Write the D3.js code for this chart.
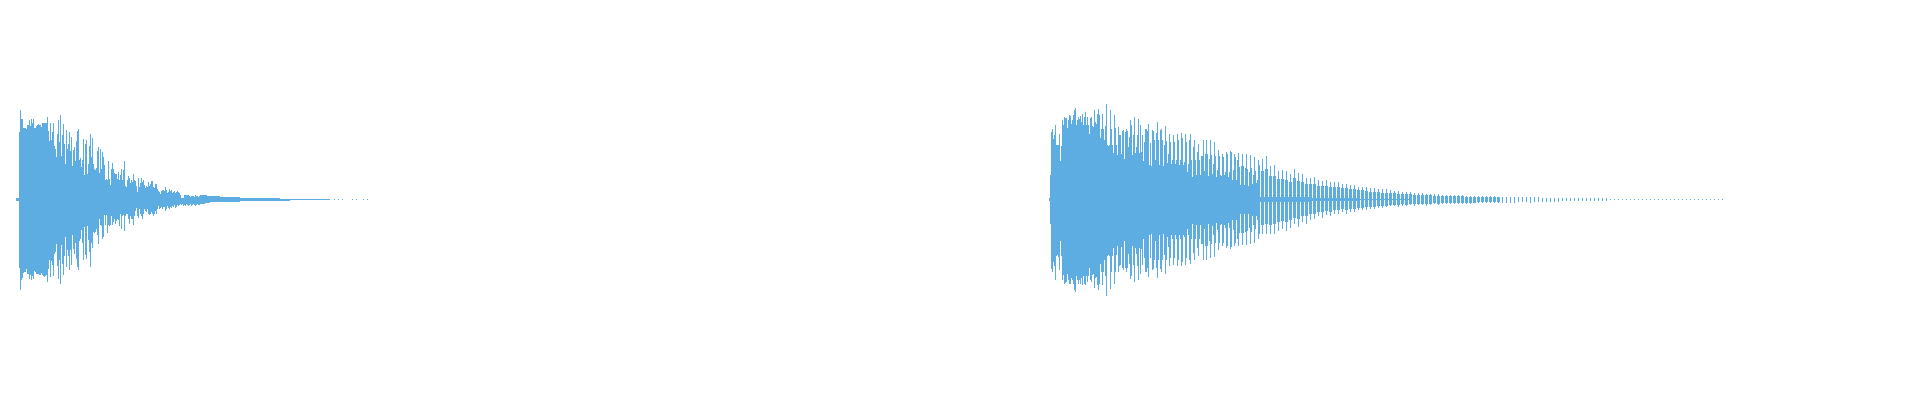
<!DOCTYPE html>
<html>
<head>
<meta charset="utf-8">
<script src="https://cdn.jsdelivr.net/npm/d3@7"></script>
<style>
  html, body { margin: 0; padding: 0; background: #ffffff; overflow: hidden; }
  svg { display: block; }
</style>
</head>
<body>
<svg id="chart" width="1920" height="400"></svg>
<script>
// ---------------- DATA (time in seconds, amplitude in % of full scale) ----------------
const duration = 9.6;          // whole timeline shown
const columnStep = 0.005;      // seconds per waveform column

// Note 1: per-column peak amplitudes (above / below zero) from its onset
const note1Start = 0.080;
const note1Top = [1.5,1.5,1.5,
  68,90,80,80,72,72,72,71,75,75,79,74,80,77,80,72,72,74,75,76,75,75,73,77,77,77,77,77,83,69,
  59,77,60,68,77,54,51,43,66,79,58,85,44,65,76,56,36,70,51,56,68,49,63,34,50,53,39,59,69,71,
  40,42,33,40,61,25,56,60,26,36,54,66,43,62,36,31,30,32,49,53,27,
  51,31,48,43,34.5,19.5,21,20,38.5,20.5,14.5,31,37,31,27,26,25.5,21,28,20,
  24.5,31,19.5,30,38.5,13.5,12,19.5,23.5,22,17,20,18,25.5,19.5,18.5,13.5,8,22,13,
  17,22,18,20,14.5,11,13.5,12,18,13.5,16,18.5,18.5,12,11,15.5,15.5,10,9,8,
  6,8.5,9.5,9.5,9,12,9.5,7,8,10,9,9.5,7,8,8.5,7,8,9,8,7,5,
  2,2,2,4.5,4.5,4.5,5,4.5,4,3,4,3.5,4,3,4.5,3.5,4,3,4];
const note1Bottom = [1.5,1.5,1.5,
  68,90,80,78,73,72,72,69,74.5,74.5,79,75,80,76.5,79,71.5,72,74.5,74.5,74.5,75.5,75,73,75.5,76,77,76.5,75.5,82,69.5,
  60.5,77,61.5,65.5,76.5,54,52,44,66,79,60,84,45.5,64,75,56.5,37,67,50.5,56.5,70.5,50.5,65.5,35,49,54,43,59,67,70.5,
  41.5,39,30.5,43,60.5,27,55,59,26.5,40.5,52,67,43,48,32,33,32,29,35.5,44,19,
  25.5,26,39,37,15.5,25.5,15.5,33,25.5,26,25.5,16.5,25,22,19,24,21.5,19.5,20.5,26,
  14,29,16,15.5,31.5,17,15,14,19,24,17,19.5,19,25.5,17,11.5,8,16,18,9.5,
  14,17,19,14,9,11.5,13,9.5,15,15.5,14,13,14,17,15,11.5,14,9,6,9,
  8,7,9,7,7,11.5,9,6,8,9,7,8,6,7,5.5,8,7,5.5,6,5,4,
  5,4,6,5,6,4.5,5.5,6,5,4.5,6,5,4,5.5,6.5,5,4.5,5,5];

// Note 1 decay tail: envelope every 10 columns
const note1TailStart = 1.000;
const note1TailStep = 0.050;
const note1TailTop    = [5,3.5,3,2.5,2,1.5,1.5,1.2,1,1,0.8,0.6,0.5,0.5];
const note1TailBottom = [5,3,2.5,2.5,2,1.5,1.5,1.2,1,1,0.8,0.6,0.5,0.5];
// Note 1 last isolated samples
const note1LastTimes = [1.670,1.690,1.710,1.760,1.780,1.815,1.835];
const note1LastAmps  = [0.5,0.5,0.5,0.5,0.5,0.5,0.5];

// Note 2 attack: per-column peak amplitudes from its onset
const note2Start = 5.245;
const note2Top = [1.5,24.5,
  68,71,61,64.5,74.5,54.5,54.5,55,66,39,
  54,79.5,74.5,83,82,82,72,79.5,84.5,84,
  76,79.5,84.5,89.5,92,74.5,79.5,83,81,84,
  78,86,75,83,88,75,83,74.5,66,82,
  83,74,73,89.5,78,76,86,90.5,84.5,62,
  71,86,71,59.5,74,96,54.5,54,55,89.5,
  71,54.5,47,84.5,72,54.5,44.5,73,65,64.5,
  46,68.5,69.5,41,68,71,68.5,53,63,79.5,
  74.5,45,64.5,83,47,53,65,81,47,74.5,
  48,64.5,38.5,58,71,71,68.5,76,34.5,
  57,33.5,70,69,60,40,67,78,59.5,34.5,
  69.5,71,59.5,33.5,54.5,73.5,59,37,46,65.5,
  58,36,39.5,64.5,58,35.5,39.5,65.5,59.5,34.5,
  39.5,67,62,34.5,38,65.5,58,28,36,60,
  65.5,40,23,53,59.5,39.5,24.5,48,55.5,40,
  24.5,43.5,43.5,59.5,29,45.5,60,45.5,23.5,41,
  60,44.5,26,36,57.5,43.5,23,29.5,49.5,43.5,
  24.5,23.5,46,43,24.5,28,48,46,23,28,
  49,48,19.5,30,46,43,19.5,40,47,33,
  14.5,33.5,46,33.5,14.5,32,46,31,13.5,28,
  44.5,32,16,24.5,43,29,17,19.5,39.5,34.5];
const note2Bottom = [1.5,24.5,
  69,72,62,66,80,56,55,57,70,42,
  56,80,75,84,83,82,74,80,84,84,
  78,80,84,90,92,76,80,84,80,84,
  78,86,76,84,86,76,82,76,68,80,
  82,75,74,88,78,77,85,90,84,64,
  72,85,72,60,76,96.5,56,55,56,89,
  72,56,48,84,72,55,46,72,66,65,
  47,68,70,42,68,72,68,54,64,79,
  76,46,65,82,48,54,66,80,48,74,
  49,65,40,58,72,72,68,77,35,
  58,34,70,69,60,41,68,78,60,35,
  69,72,60,34,55,74,60,38,47,66,
  58,36,40,65,58,36,40,66,60,35,
  40,66,62,35,38,65,58,29,36,60,
  64,40,24,53,60,40,25,48,56,40,
  25,44,44,60,29,46,60,46,24,41,
  58,44,26,36,57,43,23,30,50,43,
  25,24,46,43,25,28,48,46,23,28,
  49,47,20,30,46,43,20,40,46,33,
  15,33,45,33,15,32,45,31,14,28,
  44,32,16,25,43,29,17,20,40,34];

// Note 2 decay body envelope, every 10 columns
const note2BodyStart = 5.300;
const note2BodyStep = 0.050;
const note2BodyTop = [16,14,13,12,11,10,9.5,9,8,7.5,7,6.5,6,5.5,5,4.5,4.2,3.9,3.6,
  3.3,3,2.8,2.6,2.4,2.3,2,1.8,1.6,1.4,1.2,1,0.9,0.8,0.7,0.6,0.5];
const note2BodyBottom = [16,14,13,12,11,10,9.5,9,8,7.5,7,6.5,6,5.5,5,4.5,4.2,3.9,3.6,
  3.3,3,2.8,2.6,2.4,2.3,2,1.8,1.6,1.4,1.2,1,0.9,0.8,0.7,0.6,0.5];

// Note 2 decay: periodic peaks (one per pitch period) and their shoulders
const note2PulseStart = 6.310;
const note2PulsePeriod = 0.020;
const note2PulseTop = [40.5,44,33.5,34.5,29,29.5,29,25.5,31,27,
  25.5,22,22,23,20,19,20,17.5,18,17.5,
  16,15.5,15,15,13,13,12,11,11.5,10.5,
  10,10,9.5,9,8.5,8,8,7.5,7,7,
  6.5,6,6,5.5,5.5,5,5,
  5,4.5,4.5,4.5,4,4,4,4,3.5,3.5,3.5,3.5,3,3,3,3,3,2.5,2.5,2.5,
  2.5,2.5,2.5,2,2,2,2,2,
  1.5,1.5,1.5,1.5,1.5,1.5,1.5,1.5,1.5,1.5,1.5,1.5,
  0.6,0.6,0.6,0.6,0.6,0.6,0.6,0.6,0.6,0.6,0.6,0.6,0.6,0.6,0.6,0.6,0.6,0.6,0.6,0.6,
  0.6,0.6,0.6,0.6,0.6,0.6,0.6,0.6,0.6];
const note2PulseBottom = [34.5,34,34.5,34,31,29,31,28,24.5,27,
  22,24,20.5,19,17,18,15.5,17,15,14,
  12.5,14.5,13,12,10.5,11,10,9,9,8,
  8,7.5,6.5,6.5,7,6,6.5,5.5,6,5.5,
  5,6.5,5,4.5,5,
  4.5,4.5,4.5,4,4,4,4,4,3.5,3.5,3.5,3.5,3.5,3,3,3,3,3,3,2.5,2.5,2.5,
  3,2.5,2.5,2.5,2,2,2,2,
  1.5,1.5,1.5,1.5,1.5,1.5,1.5,1.5,1.5,1.5,1.5,1.5,
  0.6,0.6,0.6,0.6,0.6,0.6,0.6,0.6,0.6,0.6,0.6,0.6,0.6,0.6,0.6,0.6,0.6,0.6,0.6,0.6,
  0.6,0.6,0.6,0.6,0.6,0.6,0.6,0.6,0.6];
const note2ShoulderTop = [29,31,24,24,21,21,20,18,22,19,
  18,16,16,16,14,14,14,12.5,13,12.5,
  11.5,11,10.5,10.5,9.5,9.5,8.5,8,8,7.5,
  7,7,7,6.5,6,6,6,5.5,5,5,
  4.5,4.5,4.5,4,4,3.5,3.5,3.5,3.5,3.5,
  3.5,3,3,3,3,2.5,2.5,2.5,2.5,2.5];
const note2ShoulderBottom = [25,24,25,24,22,21,22,20,18,19,
  16,17,15,14,12.5,13,11.5,12,11,10.5,
  9.5,10.5,9.5,9,8,8,7.5,7,7,6.5,
  6.5,6,5,5,5.5,4.5,5,4.5,4.5,4.5,
  4,4.5,4,3.5,4,3.5,3.5,3.5,3,3,
  3,3,3,3,2.5,2.5,2.5,2.5,2.5,2.5];

// ---------------- DRAWING ----------------
const color = "#5dade2";
const svg = d3.select("#chart");
const x = d3.scaleLinear().domain([0, duration]).range([0, 1920]);
const y = d3.scaleLinear().domain([-100, 100]).range([299.5, 99.5]);
const colW = x(columnStep) - x(0);
const g = svg.append("g").attr("fill", color).attr("shape-rendering", "crispEdges");

function columns(cls, times, tops, bottoms, span) {
  const rows = times.map((t, i) => ({ t, top: tops[i], bot: bottoms[i] }));
  g.selectAll("rect." + cls).data(rows).join("rect")
    .attr("class", cls)
    .attr("x", d => Math.round(x(d.t)) - (span - 1) / 2 * colW)
    .attr("width", span * colW)
    .attr("y", d => Math.round(y(d.top)))
    .attr("height", d => Math.max(1, Math.round(y(-d.bot)) - Math.round(y(d.top))));
}
function envelope(start, step, tops, bottoms) {
  const rows = tops.map((v, i) => ({ t: start + i * step, top: v, bot: bottoms[i] }));
  const area = d3.area()
    .x(d => x(d.t))
    .y0(d => y(-d.bot))
    .y1(d => y(d.top));
  g.append("path").datum(rows).attr("d", area).attr("fill", color);
}
const seq = (start, step, n) => d3.range(n).map(i => start + i * step);

// Note 1
columns("n1", seq(note1Start, columnStep, note1Top.length), note1Top, note1Bottom, 1);
envelope(note1TailStart, note1TailStep, note1TailTop, note1TailBottom);
columns("n1end", note1LastTimes, note1LastAmps, note1LastAmps, 1);

// Note 2
columns("n2", seq(note2Start, columnStep, note2Top.length), note2Top, note2Bottom, 1);
envelope(note2BodyStart, note2BodyStep, note2BodyTop, note2BodyBottom);
columns("n2s", seq(note2PulseStart, note2PulsePeriod, note2ShoulderTop.length), note2ShoulderTop, note2ShoulderBottom, 3);
columns("n2p", seq(note2PulseStart, note2PulsePeriod, note2PulseTop.length), note2PulseTop, note2PulseBottom, 1);
</script>
</body>
</html>
